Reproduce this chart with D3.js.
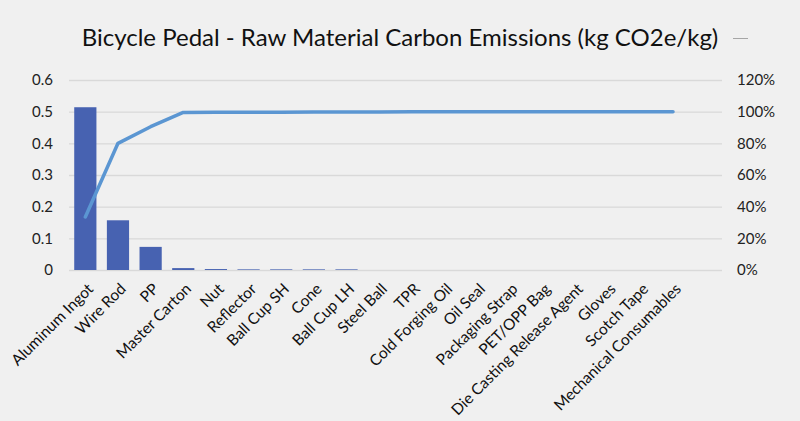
<!DOCTYPE html>
<html>
<head>
<meta charset="utf-8">
<script src="https://cdn.jsdelivr.net/npm/d3@7"></script>
<style>
  body { margin: 0; background: #f0f0f0; }
  svg { display: block; font-family: Lato, "Open Sans", sans-serif; }
</style>
</head>
<body>
<svg id="chart" width="800" height="421"></svg>
<script>
var materials = ['Aluminum Ingot', 'Wire Rod', 'PP', 'Master Carton', 'Nut', 'Reflector',
    'Ball Cup SH', 'Cone', 'Ball Cup LH', 'Steel Ball', 'TPR', 'Cold Forging Oil', 'Oil Seal',
    'Packaging Strap', 'PET/OPP Bag', 'Die Casting Release Agent', 'Gloves', 'Scotch Tape',
    'Mechanical Consumables', ''];
var emissions = [0.514, 0.157, 0.073, 0.006, 0.003, 0.002, 0.002, 0.002, 0.002, 0, 0, 0, 0,
    0, 0, 0, 0, 0, 0, 0];
var cumulative = [0.335, 0.80, 0.905, 0.995, 0.996, 0.997, 0.997, 0.998, 0.998, 0.998, 0.999,
    0.999, 0.999, 0.999, 1.0, 1.0, 1.0, 1.0, 1.0];
var leftTicks = [0, 0.1, 0.2, 0.3, 0.4, 0.5, 0.6];
var rightTicks = [0, 0.2, 0.4, 0.6, 0.8, 1.0, 1.2];
var title = 'Bicycle Pedal - Raw Material Carbon Emissions (kg CO2e/kg)';

var svg = d3.select('#chart'),
    margin = {top: 80, right: 78, bottom: 151, left: 69},
    width = 800 - margin.left - margin.right,
    height = 421 - margin.top - margin.bottom;

var x = d3.scaleBand().domain(d3.range(materials.length)).range([0, width]).paddingInner(0.32).paddingOuter(0.16);
var y = d3.scaleLinear().domain([0, 0.6]).range([height, 0]);
var y2 = d3.scaleLinear().domain([0, 1.2]).range([height, 0]);

svg.append('text')
    .attr('x', 400).attr('y', 46)
    .attr('text-anchor', 'middle')
    .style('font-size', '24px').style('fill', '#111')
    .text(title);

// stray legend mark next to the title
svg.append('line')
    .attr('x1', 733).attr('x2', 748).attr('y1', 38.5).attr('y2', 38.5)
    .style('stroke', '#a6a6a6').style('stroke-width', 1);

var g = svg.append('g').attr('transform', 'translate(' + margin.left + ',' + margin.top + ')');

g.append('g')
    .call(d3.axisLeft(y).tickValues(leftTicks).tickSize(-width).tickFormat(d3.format('~g')).tickPadding(16))
    .call(function (a) {
        a.select('.domain').remove();
        a.selectAll('.tick line').style('stroke', '#d9d9d9').style('stroke-width', 1.3);
        a.selectAll('.tick text').style('font-size', '15px').style('fill', '#222').style('font-family', 'Lato, sans-serif');
    });

g.append('g')
    .attr('transform', 'translate(' + width + ',0)')
    .call(d3.axisRight(y2).tickValues(rightTicks).tickSize(0).tickFormat(d3.format('.0%')).tickPadding(15))
    .call(function (a) {
        a.select('.domain').remove();
        a.selectAll('.tick text').style('font-size', '15px').style('fill', '#222').style('font-family', 'Lato, sans-serif');
    });

g.selectAll('rect.bar')
    .data(emissions)
    .enter()
    .append('rect')
    .attr('class', 'bar')
    .attr('x', function (d, i) { return x(i); })
    .attr('width', x.bandwidth())
    .attr('y', function (d) { return y(d); })
    .attr('height', function (d) { return height - y(d); })
    .style('fill', '#4762b1');

var line = d3.line()
    .x(function (d, i) { return x(i) + x.bandwidth() / 2; })
    .y(function (d) { return y2(d); });

g.append('path')
    .datum(cumulative)
    .attr('d', line)
    .style('fill', 'none')
    .style('stroke', '#5b96d2')
    .style('stroke-width', 3.5)
    .style('stroke-linecap', 'round')
    .style('stroke-linejoin', 'round');

g.append('g')
    .attr('transform', 'translate(0,' + height + ')')
    .call(d3.axisBottom(x).tickSize(0).tickFormat(function (i) { return materials[i]; }))
    .call(function (a) {
        a.select('.domain').remove();
        a.selectAll('.tick text')
            .attr('text-anchor', 'end')
            .attr('transform', 'translate(3,14) rotate(-45)')
            .attr('dy', '0.35em')
            .style('font-size', '15.5px').style('fill', '#111').style('font-family', 'Lato, sans-serif');
    });
</script>
</body>
</html>
